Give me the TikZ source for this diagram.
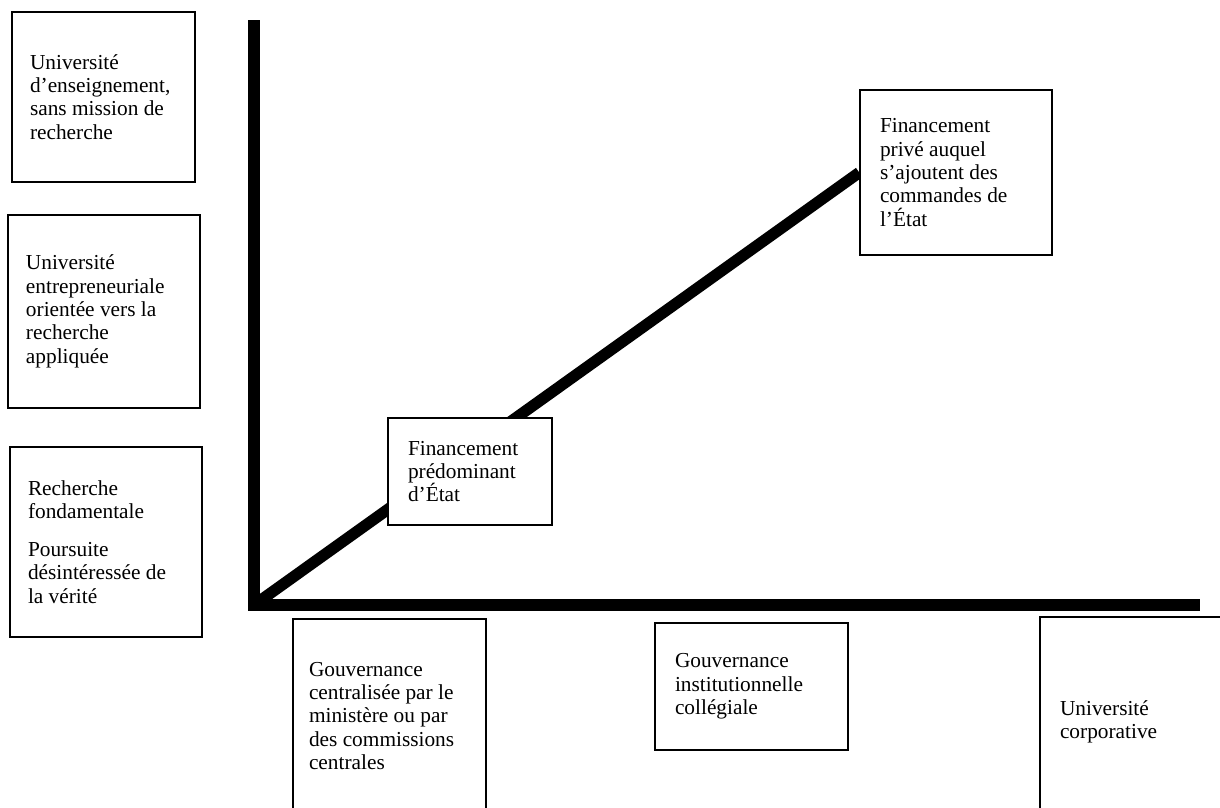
\documentclass[tikz,border=0pt]{standalone}
\usepackage{fontspec}
\setmainfont{Liberation Serif}
\usetikzlibrary{backgrounds}
\hyphenpenalty=10000
\exhyphenpenalty=10000
\tikzset{
  cbox/.style={rectangle,draw=black,line width=1.1pt,fill=white,
               align=flush left,inner ysep=0pt,
               font=\fontsize{16}{17.5}\selectfont},
  axis/.style={line width=9pt,line join=miter,black},
  trend/.style={line width=8.5pt,black},
}

\begin{document}
\begin{tikzpicture}[x=0.75pt,y=-0.75pt]
  \useasboundingbox (0,0) rectangle (1220,807);

  % left column
  \node[cbox,inner xsep=13.5pt,text width=110.25pt,minimum height=127.5pt]
    (enseign) at (103.5,97) {Université\\d’enseignement,\\sans mission de\\recherche};
  \node[cbox,inner xsep=13.5pt,text width=117pt,minimum height=144.75pt]
    (entrep) at (104,311.5) {Université\\entrepreneuriale\\orientée vers la\\recherche\\appliquée};
  \node[cbox,inner xsep=13.5pt,text width=117pt,minimum height=142.5pt]
    (fondam) at (106,542) {Recherche\\fondamentale\\[11pt]Poursuite\\désintéressée de\\la vérité};

  % funding
  \node[cbox,inner xsep=15pt,text width=93pt,minimum height=80.25pt]
    (predom) at (470,471.5) {Financement\\prédominant\\d’État};
  \node[cbox,inner xsep=15pt,text width=114pt,minimum height=123.75pt]
    (prive) at (956,172.5) {Financement\\privé auquel\\s’ajoutent des\\commandes de\\l’État};

  % bottom row
  \node[cbox,inner xsep=12pt,text width=120.75pt,minimum height=145.5pt]
    (centr) at (389.5,716) {Gouvernance\\centralisée par le\\ministère ou par\\des commissions\\centrales};
  \node[cbox,inner xsep=15pt,text width=114.75pt,minimum height=95.25pt]
    (colleg) at (751.5,686.5) {Gouvernance\\institutionnelle\\collégiale};
  \node[cbox,inner xsep=15pt,text width=114.75pt,minimum height=157.5pt]
    (corpo) at (1136.5,722) {Université\\corporative};

  \coordinate (origin) at (254,605);
  \coordinate (ytop) at (254,20);
  \coordinate (xend) at (1200,605);

  \begin{scope}[on background layer]
    \fill[white] (0,0) rectangle (1220,807);
    \draw[axis] (ytop) -- (origin) -- (xend);
    \draw[trend] (origin) -- (prive.west);
  \end{scope}
\end{tikzpicture}
\end{document}
